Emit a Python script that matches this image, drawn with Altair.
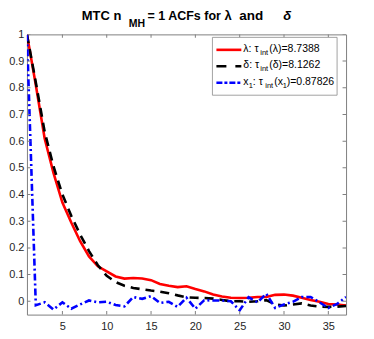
import altair as alt
import pandas as pd

# ---- data ----
lags = list(range(1, 38))
acf_lambda = [1.0, 0.81, 0.61, 0.48, 0.37, 0.295, 0.225, 0.168, 0.131, 0.112, 0.093,
              0.085, 0.087, 0.085, 0.079, 0.065, 0.058, 0.053, 0.056, 0.046, 0.037,
              0.025, 0.018, 0.013, 0.012, 0.013, 0.016, 0.016, 0.024, 0.025, 0.021,
              0.013, 0.005, -0.002, -0.01, -0.012, -0.016]
acf_delta = [1.0, 0.82, 0.635, 0.505, 0.40, 0.32, 0.25, 0.188, 0.135, 0.095, 0.072,
             0.058, 0.05, 0.045, 0.04, 0.036, 0.03, 0.022, 0.015, 0.013, 0.012,
             0.01, 0.005, 0.0, 0.0, -0.002, 0.0, 0.004, -0.012, -0.016, -0.012,
             -0.008, -0.016, -0.02, -0.021, -0.02, -0.018]
acf_x1 = [1.0, -0.015, -0.004, -0.031, -0.004, -0.028, -0.012, 0.003, -0.004, -0.002,
          -0.014, -0.019, 0.016, 0.009, 0.019, -0.006, -0.002, -0.021, 0.013, -0.028,
          0.004, 0.003, 0.003, 0.0, -0.034, 0.015, -0.004, 0.028, -0.025, -0.012,
          -0.002, 0.016, 0.016, -0.004, -0.025, -0.01, 0.016]
x_ticks = [5, 10, 15, 20, 25, 30, 35]
y_ticks = [0, 0.1, 0.2, 0.3, 0.4, 0.5, 0.6, 0.7, 0.8, 0.9, 1]
x_domain = [1, 37]
y_domain = [-0.05, 1]

FONT = "Liberation Sans"
AX = "#808080"
W, H = 320, 281
L0, T0 = 27, 34  # absolute position of plot origin (for annotations)

xscale = alt.Scale(domain=x_domain, nice=False, zero=False)
yscale = alt.Scale(domain=y_domain, nice=False, zero=False)
xaxis = alt.Axis(values=x_ticks, ticks=False, tickSize=0, domain=False, grid=False,
                 labelFont=FONT, labelFontSize=11, labelColor="#262626",
                 labelPadding=6, title=None)
yaxis = alt.Axis(values=y_ticks, ticks=False, tickSize=0, domain=False, grid=False,
                 labelFont=FONT, labelFontSize=11, labelColor="#262626",
                 labelPadding=3, format=".1~f", title=None)


def X(f):
    return alt.X(f"{f}:Q", scale=xscale, axis=xaxis, title=None)


def Y(f):
    return alt.Y(f"{f}:Q", scale=yscale, axis=yaxis, title=None)


df = pd.DataFrame({"lag": lags, "lam": acf_lambda, "dlt": acf_delta, "x1": acf_x1})

line_lam = alt.Chart(df).mark_line(color="#ff0000", strokeWidth=2.6, clip=True).encode(
    x=X("lag"), y=Y("lam"))
line_dlt = alt.Chart(df).mark_line(color="#000000", strokeWidth=2.6, strokeDash=[9, 6],
                                   clip=True).encode(x=X("lag"), y=Y("dlt"))
line_x1 = alt.Chart(df).mark_line(color="#0000ff", strokeWidth=2.6, strokeDash=[7, 3, 2, 3],
                                  clip=True).encode(x=X("lag"), y=Y("x1"))

xt = pd.DataFrame({"t": x_ticks})
yt = pd.DataFrame({"v": y_ticks})
tick_layers = []
for yy in [0, H]:
    tick_layers.append(alt.Chart(xt).mark_tick(orient="vertical", size=7, thickness=1,
                                               color=AX, clip=True, opacity=1)
                       .encode(x=X("t"), y=alt.value(yy)))
for xx in [0, W]:
    tick_layers.append(alt.Chart(yt).mark_tick(orient="horizontal", size=7, thickness=1,
                                               color=AX, clip=True, opacity=1)
                       .encode(y=Y("v"), x=alt.value(xx)))


def txt(s, ax, ay, size, bold=False, italic=False, color="#000000"):
    return alt.Chart(alt.Data(values=[{}])).mark_text(
        text=s, align="left", baseline="middle", fontSize=size, font=FONT,
        fontWeight="bold" if bold else "normal",
        fontStyle="italic" if italic else "normal", fill=color, opacity=1
    ).encode(x=alt.value(ax - L0), y=alt.value(ay - T0), color=alt.value(color))


def sample(ay, color, dash=None):
    kw = dict(color=color, strokeWidth=2.6)
    if dash:
        kw["strokeDash"] = dash
    return alt.Chart(alt.Data(values=[{}])).mark_rule(**kw).encode(
        x=alt.value(217 - L0), x2=alt.value(242 - L0), y=alt.value(ay - T0))


# title pieces
TS = 13
title_layers = [
    txt("MTC n", 82, 16, TS, bold=True),
    txt("MH", 129, 23.5, 10.5, bold=True),
    txt("= 1 ACFs for", 148, 16, 12.5, bold=True),
    txt("λ", 225, 16, TS, bold=True),
    txt("and", 240, 16, 13.5, bold=True),
    txt("δ", 284, 16, TS, bold=True, italic=True),
]

# legend
legend_box = alt.Chart(alt.Data(values=[{}])).mark_rect(
    fill="white", stroke="#8c8c8c", strokeWidth=0.8
).encode(x=alt.value(213 - L0), x2=alt.value(338 - L0),
         y=alt.value(37 - T0), y2=alt.value(95 - T0))

r1, r2, r3 = 48.5, 65.0, 81.5
FS, SS = 10.5, 7.5
legend_layers = [
    legend_box,
    sample(r1 + 1, "#ff0000"),
    sample(r2 + 1, "#000000", [10, 9]),
    sample(r3 + 1, "#0000ff", [6, 2, 3, 2]),
    txt("λ: τ", 244, r1, FS),
    txt("int", 261, r1 + 4, SS),
    txt("(λ)=8.7388", 270, r1, FS),
    txt("δ: τ", 244, r2, FS),
    txt("int", 261, r2 + 4, SS),
    txt("(δ)=8.1262", 270, r2, FS),
    txt("x", 244, r3, FS),
    txt("1", 249.5, r3 + 4, SS),
    txt(": τ", 253.5, r3, FS),
    txt("int", 266, r3 + 4, SS),
    txt("(x", 275, r3, FS),
    txt("1", 283.5, r3 + 4, SS),
    txt(")=0.87826", 287.5, r3, FS),
]

chart = alt.layer(
    line_lam, line_dlt, line_x1, *tick_layers, *legend_layers, *title_layers
).properties(
    width=W, height=H,
    autosize=alt.AutoSizeParams(type="none"),
    padding={"left": L0 - 8, "top": T0 - 8, "right": 20, "bottom": 20},
    background="white",
).configure_view(stroke=AX, strokeWidth=1)

chart.save("out.html", embed_options={"renderer": "svg", "actions": False})
